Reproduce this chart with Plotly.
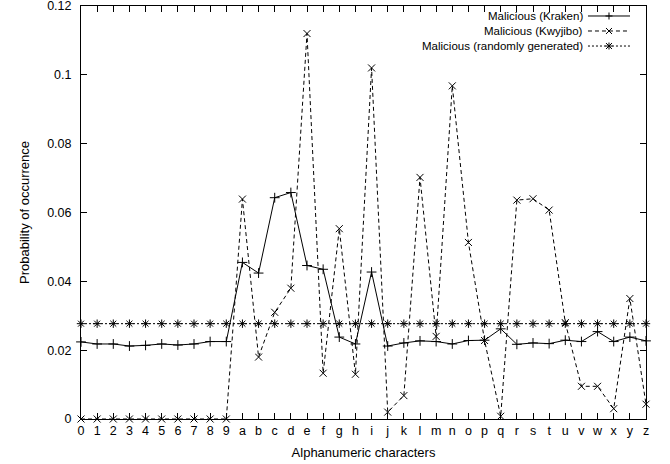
import plotly.graph_objects as go

chars = list("0123456789abcdefghijklmnopqrstuvwxyz")

kraken = [0.0224, 0.0218, 0.0218, 0.0212, 0.0214, 0.0218, 0.0215, 0.0218, 0.0225, 0.0225,
          0.0455, 0.0424, 0.0643, 0.0658, 0.0446, 0.0435, 0.0238, 0.0218, 0.0427, 0.0212,
          0.0221, 0.0227, 0.0225, 0.0218, 0.0228, 0.0229, 0.0262, 0.0217, 0.0221, 0.0219,
          0.0229, 0.0225, 0.0254, 0.0225, 0.0238, 0.0227]

kwyjibo = [0, 0, 0, 0, 0, 0, 0, 0, 0, 0,
           0.0639, 0.018, 0.031, 0.038, 0.112, 0.0133, 0.0553, 0.013, 0.102, 0.002,
           0.0068, 0.0702, 0.024, 0.0968, 0.0513, 0.0228, 0.0008, 0.0636, 0.064, 0.0607,
           0.028, 0.0095, 0.0095, 0.003, 0.035, 0.0043]

randgen = [0.0277] * 36

names = ["Malicious (Kraken)", "Malicious (Kwyjibo)", "Malicious (randomly generated)"]

yticks = [0, 0.02, 0.04, 0.06, 0.08, 0.1, 0.12]
yticktext = ["0", "0.02", "0.04", "0.06", "0.08", "0.1", "0.12"]

FONT = "Liberation Sans, Arial, Helvetica, sans-serif"

dashes = ["solid", "4px,3px", "2px,2px"]
symbols = ["cross-thin", "x-thin", "asterisk-open"]
series = [kraken, kwyjibo, randgen]

fig = go.Figure()
for vals, n, d, s in zip(series, names, dashes, symbols):
    fig.add_trace(go.Scatter(x=chars, y=vals, mode="lines+markers", name=n,
                             line=dict(color="black", width=1, dash=d),
                             marker=dict(symbol=s, size=7, color="black",
                                         line=dict(color="black", width=1)),
                             cliponaxis=False, showlegend=False))

# hand-built gnuplot-style key: label on the left, line sample on the right
marker_paths = [
    "M-3.5,0 L3.5,0 M0,-3.5 L0,3.5",
    "M-3,-3 L3,3 M-3,3 L3,-3",
    "M-3.5,0 L3.5,0 M0,-3.5 L0,3.5 M-3,-3 L3,3 M-3,3 L3,-3",
]
key_rows = [0.9758, 0.9395, 0.9031]
for n, d, p, yy in zip(names, dashes, marker_paths, key_rows):
    fig.add_annotation(text=n, xref="paper", yref="paper", x=0.892, y=yy,
                       xanchor="right", yanchor="middle", showarrow=False,
                       font=dict(family=FONT, size=11.5, color="black"))
    fig.add_shape(type="line", xref="paper", yref="paper", x0=0.8973, x1=0.9717,
                  y0=yy, y1=yy, line=dict(color="black", width=1, dash=d))
    fig.add_shape(type="path", xref="paper", yref="paper", xsizemode="pixel",
                  ysizemode="pixel", xanchor=0.9345, yanchor=yy, path=p,
                  line=dict(color="black", width=1))

fig.update_layout(
    width=670, height=464,
    margin=dict(l=81, r=24, t=6, b=45),
    paper_bgcolor="white", plot_bgcolor="white",
    font=dict(family=FONT, size=12.5, color="black"),
    showlegend=False,
    xaxis=dict(type="category", categoryorder="array", categoryarray=chars,
               range=[0, 35], showline=True, linecolor="black", linewidth=1, mirror="ticks",
               ticks="inside", ticklen=6, tickcolor="black", showgrid=False, zeroline=False,
               automargin=False, ticklabeloverflow="allow",
               title=dict(text="Alphanumeric characters", standoff=10,
                          font=dict(size=13)),
               tickfont=dict(size=12.5)),
    yaxis=dict(range=[0, 0.120001], tickvals=yticks, ticktext=yticktext,
               showline=True, linecolor="black", linewidth=1, mirror="ticks",
               ticks="inside", ticklen=6, tickcolor="black", showgrid=False, zeroline=False,
               automargin=False, ticklabeloverflow="allow", ticklabelstandoff=6,
               title=dict(text="Probability of occurrence", standoff=14,
                          font=dict(size=13)),
               tickfont=dict(size=12.5)),
)

fig.write_html("out.html", config={"displayModeBar": False},
               post_script="document.body.style.margin='0';")
